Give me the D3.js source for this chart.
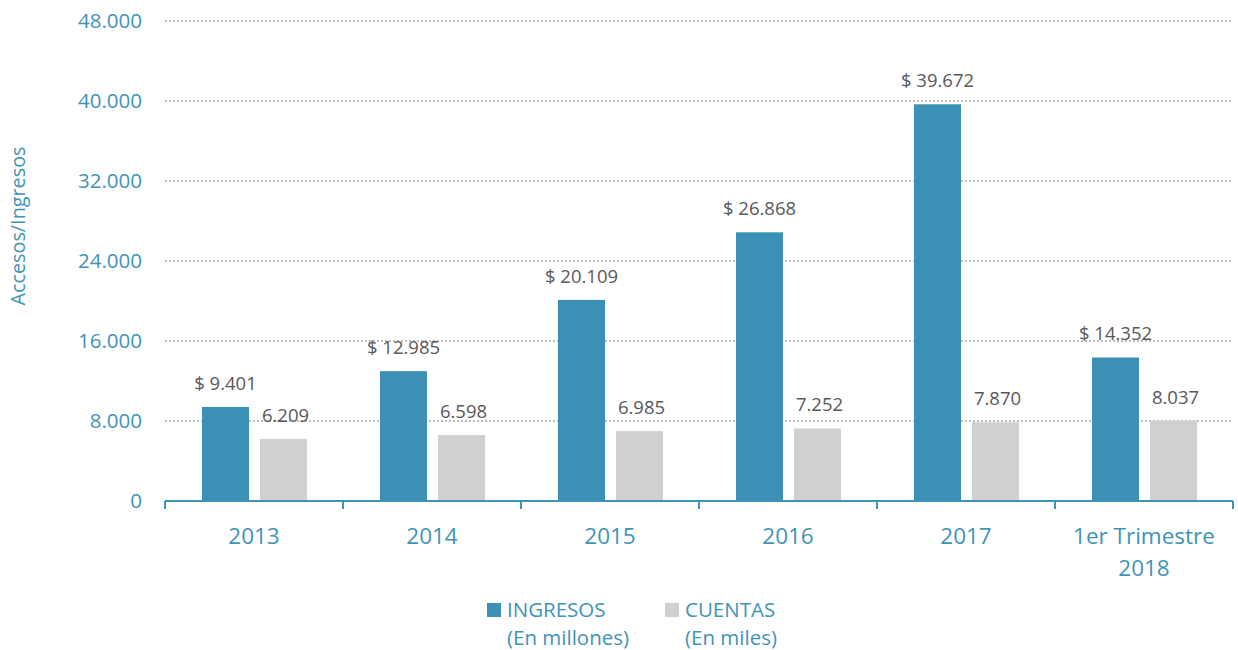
<!DOCTYPE html>
<html>
<head>
<meta charset="utf-8">
<script src="https://cdn.jsdelivr.net/npm/d3@7"></script>
<style>
  body { margin: 0; background: #fff; }
  text { font-family: "Open Sans", sans-serif; }
</style>
</head>
<body>
<div class="chart"></div>
<script>
var categories = ['2013', '2014', '2015', '2016', '2017', '1er Trimestre|2018'];
var ingresos = [9401, 12985, 20109, 26868, 39672, 14352];
var cuentas = [6209, 6598, 6985, 7252, 7870, 8037];
var yTicks = [0, 8000, 16000, 24000, 32000, 40000, 48000];

var svgWidth = 1238;
var svgHeight = 650;
var margin = {top: 21, right: 5, bottom: 149, left: 165};
var width = svgWidth - margin.left - margin.right;
var height = svgHeight - margin.top - margin.bottom;

var teal = '#3b91b5';
var grey = '#d0d0d2';
var axisColor = '#3f94b8';

var fmt = function(v) {
  return d3.format(',')(v).replace(/,/g, '.');
};

var svg = d3
  .select('.chart')
  .append('svg')
  .attr('width', svgWidth)
  .attr('height', svgHeight);

var chart = svg.append('g')
  .attr('transform', 'translate(' + margin.left + ',' + margin.top + ')');

var x0 = d3.scaleBand().domain(categories).range([0, 1068]).paddingInner(0).paddingOuter(0);
var x1 = d3.scaleBand().domain(['ingresos', 'cuentas']).range([37, 142]).paddingInner(0.19);
var y = d3.scaleLinear().domain([0, 48000]).range([height, 0]);

// gridlines
chart.append('g')
  .selectAll('line')
  .data(yTicks.filter(function(d) { return d > 0; }))
  .enter()
  .append('line')
  .attr('x1', 0)
  .attr('x2', width)
  .attr('y1', function(d) { return y(d); })
  .attr('y2', function(d) { return y(d); })
  .attr('stroke', '#a6a6a6')
  .attr('stroke-width', 1.3)
  .attr('stroke-dasharray', '2,2');

// y tick labels
chart.append('g')
  .selectAll('text')
  .data(yTicks)
  .enter()
  .append('text')
  .attr('x', -23)
  .attr('y', function(d) { return y(d); })
  .attr('dy', '0.35em')
  .attr('text-anchor', 'end')
  .attr('font-size', 20.5)
  .attr('fill', axisColor)
  .text(fmt);

var groups = chart.selectAll('.cat')
  .data(categories)
  .enter()
  .append('g')
  .attr('class', 'cat')
  .attr('transform', function(d) { return 'translate(' + x0(d) + ',0)'; });

groups.append('rect')
  .attr('x', x1('ingresos'))
  .attr('width', x1.bandwidth())
  .attr('y', function(d, i) { return y(ingresos[i]); })
  .attr('height', function(d, i) { return height - y(ingresos[i]); })
  .attr('fill', teal);

groups.append('rect')
  .attr('x', x1('cuentas'))
  .attr('width', x1.bandwidth())
  .attr('y', function(d, i) { return y(cuentas[i]); })
  .attr('height', function(d, i) { return height - y(cuentas[i]); })
  .attr('fill', grey);

groups.append('text')
  .attr('x', x1('ingresos') + x1.bandwidth() / 2)
  .attr('y', function(d, i) { return y(ingresos[i]) - 17; })
  .attr('text-anchor', 'middle')
  .attr('font-size', 18.5)
  .attr('fill', '#595959')
  .text(function(d, i) { return '$ ' + fmt(ingresos[i]); });

groups.append('text')
  .attr('x', x1('cuentas') + x1.bandwidth() / 2 + 2)
  .attr('y', function(d, i) { return y(cuentas[i]) - 17; })
  .attr('text-anchor', 'middle')
  .attr('font-size', 18.5)
  .attr('fill', '#595959')
  .text(function(d, i) { return fmt(cuentas[i]); });

// x axis line and ticks
var axis = chart.append('g').attr('transform', 'translate(0,' + height + ')');
axis.append('line')
  .attr('x1', 0).attr('x2', 1068)
  .attr('y1', 0).attr('y2', 0)
  .attr('stroke', axisColor)
  .attr('stroke-width', 2);
axis.selectAll('.tick')
  .data(categories.concat(['end']))
  .enter()
  .append('line')
  .attr('x1', function(d) { return d === 'end' ? 1068 : x0(d); })
  .attr('x2', function(d) { return d === 'end' ? 1068 : x0(d); })
  .attr('y1', 0)
  .attr('y2', 8)
  .attr('stroke', axisColor)
  .attr('stroke-width', 2);

// category labels
axis.selectAll('.lab')
  .data(categories)
  .enter()
  .append('text')
  .attr('x', function(d) { return x0(d) + x0.bandwidth() / 2; })
  .attr('y', 43)
  .attr('text-anchor', 'middle')
  .attr('font-size', 22.5)
  .attr('fill', axisColor)
  .each(function(d) {
    var parts = d.split('|');
    var t = d3.select(this);
    parts.forEach(function(p, i) {
      t.append('tspan')
        .attr('x', x0(d) + x0.bandwidth() / 2)
        .attr('dy', i === 0 ? 0 : 32)
        .text(p);
    });
  });

// y axis title
svg.append('text')
  .attr('transform', 'translate(25,226) rotate(-90)')
  .attr('text-anchor', 'middle')
  .attr('font-size', 19.8)
  .attr('fill', axisColor)
  .text('Accesos/Ingresos');

// legend
var legendItems = [
  {name: 'INGRESOS', sub: '(En millones)', color: teal, x: 487},
  {name: 'CUENTAS', sub: '(En miles)', color: grey, x: 665}
];
var legend = svg.append('g');
legendItems.forEach(function(item) {
  legend.append('rect')
    .attr('x', item.x)
    .attr('y', 603)
    .attr('width', 14)
    .attr('height', 14)
    .attr('fill', item.color);
  legend.append('text')
    .attr('x', item.x + 20)
    .attr('y', 617)
    .attr('font-size', 20.5)
    .attr('fill', axisColor)
    .text(item.name);
  legend.append('text')
    .attr('x', item.x + 20)
    .attr('y', 645)
    .attr('font-size', 20.5)
    .attr('fill', axisColor)
    .text(item.sub);
});
</script>
</body>
</html>
